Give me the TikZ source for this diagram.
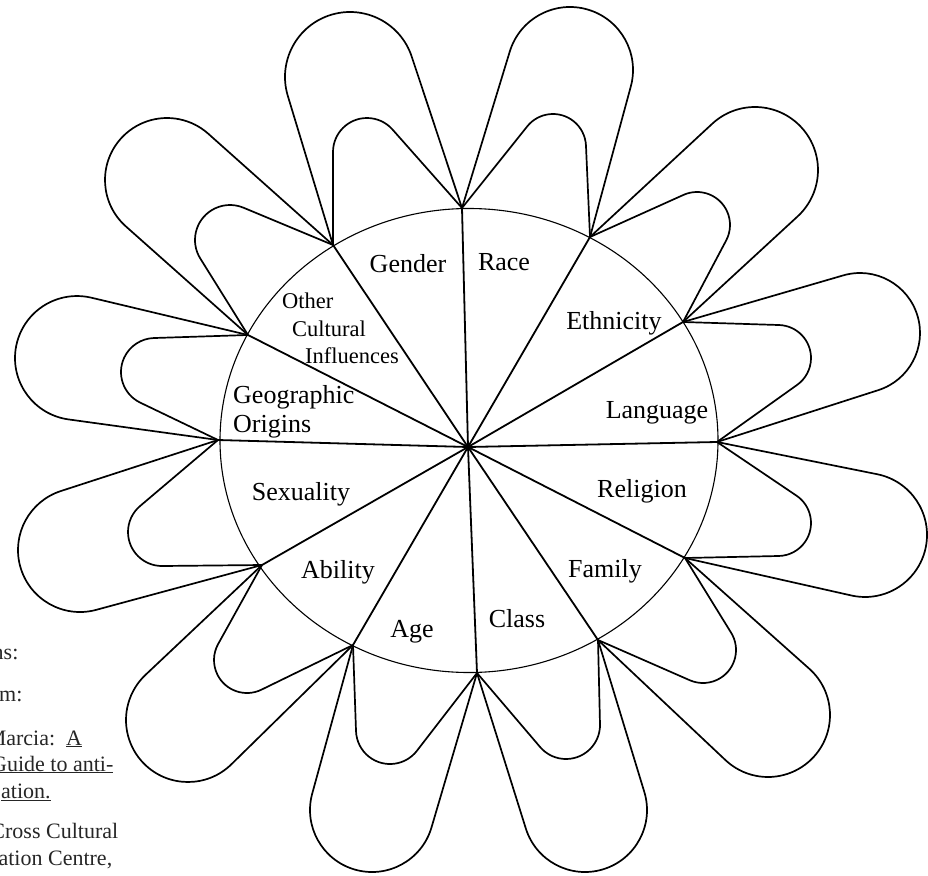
\documentclass[tikz,border=0pt]{standalone}
\usepackage{fontspec}
\setmainfont{Liberation Serif}
\usetikzlibrary{calc}
\tikzset{
  petal/.style={line width=1.7pt, line join=round},
  spoke/.style={line width=1.8pt},
  rim/.style={line width=1.1pt},
  lbl/.style={font=\fontsize{26}{30}\selectfont, inner sep=0pt, anchor=base},
  slbl/.style={font=\fontsize{22.5}{27}\selectfont, inner sep=0pt, anchor=base west},
  glbl/.style={font=\fontsize{26}{30}\selectfont, inner sep=0pt, anchor=base west},
  note/.style={font=\fontsize{22}{27}\selectfont, inner sep=0pt, anchor=base west, text=black!85},
}
% petal from point #1 to point #2 around a tip circle centred at #3 with radius #4
\newcommand\petal[4]{%
  \draw[petal] let \p1=(#1), \p2=(#2), \p3=(#3),
    \n1={atan2((\y1)-(\y3),(\x1)-(\x3))-acos(#4/veclen((\x1)-(\x3),(\y1)-(\y3)))},
    \n2={atan2((\y2)-(\y3),(\x2)-(\x3))+acos(#4/veclen((\x2)-(\x3),(\y2)-(\y3)))},
    \n3={mod(mod(\n1-\n2,360)+360,360)} in
    (\p1) -- ($(\p3)+(\n1:#4)$) arc[start angle=\n1, delta angle=-\n3, radius=#4] -- (\p2);
}
\begin{document}
\begin{tikzpicture}[x=1pt,y=1pt]
\useasboundingbox (0,-875) rectangle (928,0);
\clip (0,-875) rectangle (928,0);

% hub and rim points
\coordinate (O) at (468,-447);
\coordinate (P0) at (462,-208);
\coordinate (P1) at (590,-237);
\coordinate (P2) at (683,-322);
\coordinate (P3) at (717,-442);
\coordinate (P4) at (685,-558);
\coordinate (P5) at (598,-640);
\coordinate (P6) at (477,-673);
\coordinate (P7) at (353,-645);
\coordinate (P8) at (262,-565);
\coordinate (P9) at (218,-440);
\coordinate (P10) at (248,-335);
\coordinate (P11) at (333,-245);

% rim
\draw[rim] (469,-440.5) ellipse [x radius=249, y radius=232];

% spokes
\foreach \i in {0,...,11} { \draw[spoke] (O) -- (P\i); }

% petals
\petal{P11}{P0}{350,-77}{65}
\petal{P11}{P0}{367,-152}{34}
\petal{P0}{P1}{570,-70}{63}
\petal{P0}{P1}{553,-147}{33}
\petal{P1}{P2}{755,-170}{63}
\petal{P1}{P2}{697,-225}{33}
\petal{P2}{P3}{860,-333}{60}
\petal{P2}{P3}{778,-358}{33}
\petal{P3}{P4}{865,-535}{62}
\petal{P3}{P4}{778,-523}{33}
\petal{P4}{P5}{768,-715}{62}
\petal{P4}{P5}{703,-650}{33}
\petal{P5}{P6}{585,-810}{62}
\petal{P5}{P6}{566,-725}{34}
\petal{P6}{P7}{372,-810}{62}
\petal{P6}{P7}{390,-730}{34}
\petal{P7}{P8}{188,-720}{62}
\petal{P7}{P8}{247,-660}{33}
\petal{P8}{P9}{80,-550}{62}
\petal{P8}{P9}{162,-532}{34}
\petal{P9}{P10}{77,-358}{62}
\petal{P9}{P10}{155,-372}{34}
\petal{P10}{P11}{167,-180}{62}
\petal{P10}{P11}{230,-240}{35}

% sector labels
\node[lbl] (gender) at (408,-272) {Gender};
\node[lbl] (race) at (504,-270) {Race};
\node[lbl] (ethnicity) at (614,-329) {Ethnicity};
\node[lbl] (language) at (657,-418) {Language};
\node[lbl] (religion) at (642,-497) {Religion};
\node[lbl] (family) at (605,-577) {Family};
\node[lbl] (class) at (517,-627) {Class};
\node[lbl] (age) at (412,-637) {Age};
\node[lbl] (ability) at (338,-578) {Ability};
\node[lbl] (sexuality) at (301,-500) {Sexuality};
\node[glbl] (geo1) at (233,-403) {Geographic};
\node[glbl] (geo2) at (233,-432) {Origins};
\node[slbl] (oc1) at (282,-308) {Other};
\node[slbl] (oc2) at (292,-336) {Cultural};
\node[slbl] (oc3) at (305,-363) {Influences};

% cut-off note at the left edge, as in the reference
\node[note] (n1) at (-7.5,-659) {ns:};
\node[note] (n2) at (-1,-701) {m:};
\node[note] (n3) at (-13.4,-745) {Marcia:\ \ \underline{A}};
\node[note] (n4) at (-9,-771) {\underline{Guide to anti-}};
\node[note] (n5) at (1,-798) {\underline{ation.}};
\node[note] (n6) at (-9.7,-838) {Cross Cultural};
\node[note] (n7) at (-1.6,-865) {ation Centre,};
\end{tikzpicture}
\end{document}
